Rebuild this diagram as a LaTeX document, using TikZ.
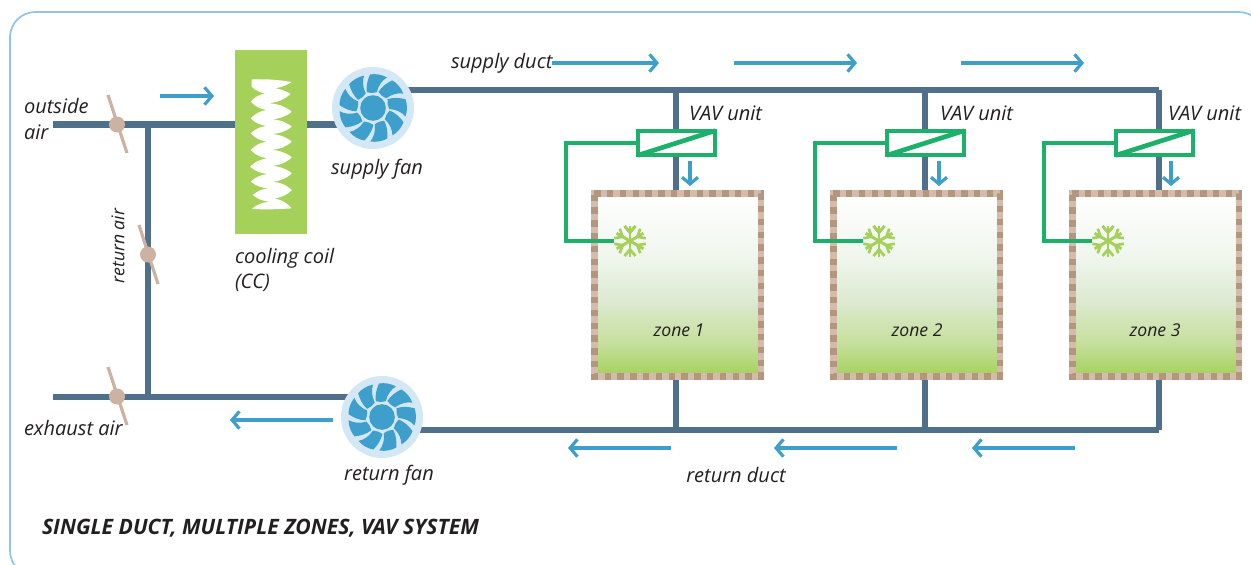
\documentclass[tikz,border=0pt]{standalone}
\usepackage{fontspec}
\setmainfont{Open Sans}
\usetikzlibrary{arrows.meta,calc}
\pgfdeclarelayer{ductlayer}
\pgfsetlayers{ductlayer,main}
\definecolor{duct}{HTML}{4F6F8A}
\definecolor{flow}{HTML}{3F9FCC}
\definecolor{fanbg}{HTML}{D3E7F5}
\definecolor{leaf}{HTML}{A5D15A}
\definecolor{ctrl}{HTML}{1DB06A}
\definecolor{damp}{HTML}{CDB2A3}
\definecolor{wallA}{HTML}{D4BCAD}
\definecolor{wallB}{HTML}{B4967F}
\definecolor{frame}{HTML}{8FC6E6}
\definecolor{inka}{HTML}{231F20}
\definecolor{gradA}{HTML}{C6DF9C}
\definecolor{gradB}{HTML}{DDEAD2}
\definecolor{gradC}{HTML}{EFF5EC}
\pgfdeclareverticalshading{zoneshade}{100bp}{color(0bp)=(leaf);color(25bp)=(leaf);color(34bp)=(gradA);color(46bp)=(gradB);color(57bp)=(gradC);color(75bp)=(white);color(100bp)=(white)}
\tikzset{
  px/.style={x=0.75pt,y=-0.75pt},
  ductline/.style={draw=duct,line width=5pt},
  flowarrow/.style={draw=flow,line width=2.4pt,-{Straight Barb[length=5.5pt,width=13pt,line width=2.4pt]}},
  smallarrow/.style={draw=flow,line width=2.4pt,-{Straight Barb[length=5pt,width=12pt,line width=2.4pt]}},
  ctrlline/.style={draw=ctrl,line width=2.3pt},
  lbl/.style={font=\fontsize{15}{17}\selectfont\itshape,text=inka,inner sep=0pt,outer sep=0pt},
  zonelbl/.style={lbl,font=\fontsize{13.2}{15}\selectfont\itshape},
  fannode/.style={circle,fill=fanbg,minimum size=61.5pt,inner sep=0pt,outer sep=0pt},
  dampnode/.style={circle,fill=damp,minimum size=12pt,inner sep=0pt,outer sep=0pt},
  damperblade/.style={draw=damp,line width=2.4pt},
  vavbox/.style={rectangle,draw=ctrl,fill=white,line width=3pt,minimum width=58pt,minimum height=18.5pt,inner sep=0pt,outer sep=0pt},
  zonebox/.style={rectangle,draw=wallA,line width=4.9pt,shading=zoneshade,minimum width=124.9pt,minimum height=137.2pt,inner sep=0pt,outer sep=0pt},
  wallcheck/.style={draw=wallB,line width=4.9pt,dash pattern=on 4.8pt off 4.8pt},
  snownode/.style={circle,minimum size=24pt,inner sep=0pt,outer sep=0pt},
  coilnode/.style={rectangle,fill=leaf,minimum width=54pt,minimum height=138pt,inner sep=0pt,outer sep=0pt},
  lobe/.style={bend left=17},
  fanpic/.pic={
    \fill[flow] (0,0) circle[radius=9.6pt];
    \foreach \r in {0,40,...,320}{
      \fill[flow,rotate=\r,x=0.75pt,y=0.75pt] (-6.2,15.8) .. controls (-7,22) and (-5.5,28) .. (-3,33.5)
        .. controls (2,34.5) and (9,33.5) .. (14,30.5)
        .. controls (9.5,28) and (5.5,23) .. (3.8,15.8)
        .. controls (0.5,14.8) and (-3,14.8) .. (-6.2,15.8) -- cycle;
    }
  },
  snowpic/.pic={
    \foreach \r in {90,150,...,450}{
      \begin{scope}[rotate=\r,x=0.75pt,y=0.75pt]
        \draw[leaf,line width=2.2pt] (0,0) -- (15.5,0);
        \draw[leaf,line width=2pt] (8.5,0) -- (15,5.5);
        \draw[leaf,line width=2pt] (8.5,0) -- (15,-5.5);
      \end{scope}
    }
  }
}
\begin{document}
\begin{tikzpicture}[px]
\useasboundingbox (0,0) rectangle (1251,564);
\clip (0,0) rectangle (1251,564);
\draw[frame,line width=1.3pt,rounded corners=19pt] (10,12) rectangle (1264,576);

% junctions and free ends of the ducts
\coordinate (oa) at (53,124.5);
\coordinate (ea) at (53,397);
\coordinate (jt) at (148,124.5);
\coordinate (jb) at (148,397);
\coordinate (sd1) at (676,90);
\coordinate (sd2) at (925,90);
\coordinate (sd3) at (1159,90);
\coordinate (rd1) at (676,430);
\coordinate (rd2) at (925,430);
\coordinate (rd3) at (1159,430);

% main components
\node[coilnode] (coil) at (271,142) {};
\node[fannode] (sfan) at (373,108) {};
\node[fannode] (rfan) at (382,417) {};
\foreach \n/\cx in {1/677.5,2/916.5,3/1155.5}{
  \node[zonebox] (z\n) at (\cx,284.8) {};
  \draw[wallcheck] (z\n.north west) -- (z\n.north east) -- (z\n.south east) -- (z\n.south west) -- cycle;
}

% ducts, on a layer behind the components
\begin{pgfonlayer}{ductlayer}
\draw[ductline] (oa) -- (coil.center |- oa);
\draw[ductline] (coil.center |- oa) -- (sfan.center |- oa);
\draw[ductline] (jt) -- (jb);
\draw[ductline] (ea) -- (rfan.center |- ea);
\draw[ductline] (sfan.center |- sd1) -- (sd3);
\draw[ductline] (rfan.center |- rd1) -- (rd3);
\draw[ductline] (sd1) -- (sd1 |- z1.north);
\draw[ductline] (sd2) -- (sd2 |- z2.north);
\draw[ductline] (sd3) -- (sd3 |- z3.north);
\draw[ductline] (rd1) -- (rd1 |- z1.south);
\draw[ductline] (rd2) -- (rd2 |- z2.south);
\draw[ductline] (rd3) -- (rd3 |- z3.south);
\end{pgfonlayer}

% cooling coil
\begin{scope}[shift={(230,70)},x=0.25pt,y=-0.25pt]
\fill[white,rounded corners=0.5pt] (65,28) to[bend left=5] (185,36) to[lobe] (108,55) to[lobe] (182,72) to[lobe] (112,100) to[lobe] (186,125) to[lobe] (120,148) to[lobe] (186,170) to[lobe] (120,192) to[lobe] (186,215) to[lobe] (120,240) to[lobe] (186,262) to[lobe] (124,288) to[lobe] (186,310) to[lobe] (128,335) to[lobe] (186,360) to[lobe] (134,385) to[lobe] (185,415) to[bend left=3] (65,417) to[lobe] (122,395) to[lobe] (68,375) to[lobe] (118,355) to[lobe] (62,335) to[lobe] (114,312) to[lobe] (60,290) to[lobe] (112,265) to[lobe] (62,240) to[lobe] (110,215) to[lobe] (62,190) to[lobe] (110,168) to[lobe] (62,145) to[lobe] (110,120) to[lobe] (62,95) to[lobe] (106,70) to[lobe] (65,50) -- cycle;
\end{scope}
\pic at (sfan.center) {fanpic};
\pic at (rfan.center) {fanpic};

% dampers
\coordinate (d1a) at (108,95);
\coordinate (d1b) at (127,153);
\coordinate (d2a) at (139,225);
\coordinate (d2b) at (158,284);
\coordinate (d3a) at (108,367);
\coordinate (d3b) at (127,425);
\draw[damperblade] (d1a) -- (d1b);
\draw[damperblade] (d2a) -- (d2b);
\draw[damperblade] (d3a) -- (d3b);
\node[dampnode] (d1) at (117,124.5) {};
\node[dampnode] (d2) at (148,254.5) {};
\node[dampnode] (d3) at (117,396.5) {};

% VAV units, control lines and thermostats
\foreach \n/\vx/\sx/\lx in {1/676.5/630/566,2/925.5/879/815,3/1154.5/1108/1044}{
  \node[vavbox] (v\n) at (\vx,143) {};
  \draw[draw=ctrl,line width=3.5pt] (v\n.south west) -- (v\n.north east);
  \node[snownode] (s\n) at (\sx,241) {};
  \coordinate (k\n a) at (\lx,143);
  \coordinate (k\n b) at (\lx,241);
  \draw[ctrlline] (v\n.west) -- (k\n a) -- (k\n b) -- (s\n.west);
  \pic at (s\n.center) {snowpic};
}

% air-flow arrows
\coordinate (f0a) at (160,96);   \coordinate (f0b) at (214,96);
\coordinate (f1b) at (659,63);
\coordinate (f2a) at (734,63);   \coordinate (f2b) at (857,63);
\coordinate (f3a) at (961,63);   \coordinate (f3b) at (1084,63);
\coordinate (f4a) at (690,161);  \coordinate (f4b) at (690,186);
\coordinate (f5a) at (939,161);  \coordinate (f5b) at (939,186);
\coordinate (f6a) at (1171,161); \coordinate (f6b) at (1171,186);
\coordinate (f7a) at (333,420);  \coordinate (f7b) at (230,420);
\coordinate (f8a) at (671,448);  \coordinate (f8b) at (568,448);
\coordinate (f9a) at (897,448);  \coordinate (f9b) at (774,448);
\coordinate (f10a) at (1075,448);\coordinate (f10b) at (972,448);

% labels
\node[lbl,anchor=west] (tout) at (24,106) {outside};
\node[lbl,anchor=west] (tair) at (24,132) {air};
\node[zonelbl,rotate=90] (tret) at (118,246) {return air};
\node[lbl,anchor=west] (tcc) at (235,258) {cooling coil};
\node[lbl,anchor=west] (tcc2) at (235,283) {(CC)};
\node[lbl] (tsf) at (377,169) {supply fan};
\node[lbl,anchor=west] (tsd) at (451,63) {supply duct};
\node[lbl,anchor=west] (tv1) at (689,113) {VAV unit};
\node[lbl,anchor=west] (tv2) at (940,113) {VAV unit};
\node[lbl,anchor=west] (tv3) at (1168,113) {VAV unit};
\node[zonelbl] (tz1) at (679,330) {zone 1};
\node[zonelbl] (tz2) at (917,330) {zone 2};
\node[zonelbl] (tz3) at (1155,330) {zone 3};
\node[lbl,anchor=west] (tex) at (24,428) {exhaust air};
\node[lbl] (trf) at (389,475) {return fan};
\node[lbl] (trd) at (736,475) {return duct};
\node[lbl,anchor=west,font=\fontsize{15.9}{18}\selectfont\itshape\bfseries] (title) at (42,528) {SINGLE DUCT, MULTIPLE ZONES, VAV SYSTEM};

\draw[flowarrow] (f0a) -- (f0b);
\draw[flowarrow] (tsd.east) -- (f1b);
\draw[flowarrow] (f2a) -- (f2b);
\draw[flowarrow] (f3a) -- (f3b);
\draw[smallarrow] (f4a) -- (f4b);
\draw[smallarrow] (f5a) -- (f5b);
\draw[smallarrow] (f6a) -- (f6b);
\draw[flowarrow] (f7a) -- (f7b);
\draw[flowarrow] (f8a) -- (f8b);
\draw[flowarrow] (f9a) -- (f9b);
\draw[flowarrow] (f10a) -- (f10b);
\end{tikzpicture}
\end{document}
